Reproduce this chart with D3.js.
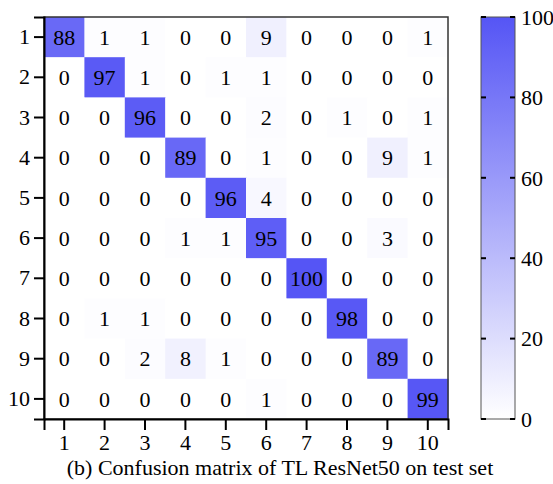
<!DOCTYPE html>
<html>
<head>
<meta charset="utf-8">
<script src="https://cdn.jsdelivr.net/npm/d3@7"></script>
<style>
  body { margin: 0; background: #fff; }
  svg text { font-family: "Liberation Serif", "Times New Roman", Tinos, "DejaVu Serif", serif; fill: #000; }
</style>
</head>
<body>
<svg id="chart" width="553" height="484"></svg>
<script>
'use strict';
// class labels (true = rows, predicted = columns)
let classes = ["1", "2", "3", "4", "5", "6", "7", "8", "9", "10"];

// confusion matrix rows
let row1  = [88, 1, 1, 0, 0, 9, 0, 0, 0, 1];
let row2  = [0, 97, 1, 0, 1, 1, 0, 0, 0, 0];
let row3  = [0, 0, 96, 0, 0, 2, 0, 1, 0, 1];
let row4  = [0, 0, 0, 89, 0, 1, 0, 0, 9, 1];
let row5  = [0, 0, 0, 0, 96, 4, 0, 0, 0, 0];
let row6  = [0, 0, 0, 1, 1, 95, 0, 0, 3, 0];
let row7  = [0, 0, 0, 0, 0, 0, 100, 0, 0, 0];
let row8  = [0, 1, 1, 0, 0, 0, 0, 98, 0, 0];
let row9  = [0, 0, 2, 8, 1, 0, 0, 0, 89, 0];
let row10 = [0, 0, 0, 0, 0, 1, 0, 0, 0, 99];
let matrix = [row1, row2, row3, row4, row5, row6, row7, row8, row9, row10];

let colorTicks = [0, 20, 40, 60, 80, 100];
let title = "(b) Confusion matrix of TL ResNet50 on test set";

let svg = d3.select("#chart"),
    m = {left: 44, top: 17, right: 448, bottom: 419};

let x = d3.scaleBand().domain(classes).range([m.left, m.right]);
let y = d3.scaleBand().domain(classes).range([m.top, m.bottom]);
let color = d3.scaleLinear().domain([0, 100]).range(["#ffffff", "#5555f5"]);

let cells = [];
matrix.forEach((row, i) => row.forEach((v, j) => {
    cells.push({r: classes[i], c: classes[j], v: v});
}));

let g = svg.append("g");
g.selectAll("rect")
    .data(cells)
    .enter().append("rect")
    .attr("x", d => x(d.c))
    .attr("y", d => y(d.r))
    .attr("width", x.bandwidth() + 0.5)
    .attr("height", y.bandwidth() + 0.5)
    .attr("fill", d => color(d.v));

g.selectAll("text.val")
    .data(cells)
    .enter().append("text")
    .attr("class", "val")
    .attr("x", d => x(d.c) + x.bandwidth() / 2)
    .attr("y", d => y(d.r) + y.bandwidth() / 2)
    .attr("dy", "0.35em")
    .attr("text-anchor", "middle")
    .attr("font-size", 22)
    .text(d => d.v);

// frame (top/right thin)
svg.append("rect")
    .attr("x", m.left).attr("y", m.top)
    .attr("width", m.right - m.left).attr("height", m.bottom - m.top)
    .attr("fill", "none").attr("stroke", "#333").attr("stroke-width", 1.5);

let axL = svg.append("g")
    .attr("transform", "translate(" + m.left + ",0)")
    .call(d3.axisLeft(y).tickSize(10).tickPadding(4));
let axB = svg.append("g")
    .attr("transform", "translate(0," + m.bottom + ")")
    .call(d3.axisBottom(x).tickSize(11).tickPadding(4));
[axL, axB].forEach(a => {
    a.attr("font-family", null).attr("font-size", null);
    a.select(".domain").attr("stroke", "#000").attr("stroke-width", 2);
    a.selectAll(".tick line").attr("stroke", "#000").attr("stroke-width", 2);
    a.selectAll(".tick text").attr("font-size", 22).attr("fill", "#000");
});

// colour bar
let cb = {x0: 481, x1: 515};
let cy = d3.scaleLinear().domain([0, 100]).range([m.bottom, m.top]);
let defs = svg.append("defs");
let grad = defs.append("linearGradient")
    .attr("id", "cbar").attr("x1", 0).attr("y1", 1).attr("x2", 0).attr("y2", 0);
grad.selectAll("stop")
    .data(colorTicks)
    .enter().append("stop")
    .attr("offset", d => d / 100)
    .attr("stop-color", d => color(d));
svg.append("rect")
    .attr("x", cb.x0).attr("y", cy(100))
    .attr("width", cb.x1 - cb.x0).attr("height", cy(0) - cy(100))
    .attr("fill", "url(#cbar)")
    .attr("stroke", "#555").attr("stroke-width", 1);

let tg = svg.append("g").selectAll("g")
    .data(colorTicks)
    .enter().append("g");
tg.append("line")
    .attr("x1", cb.x0).attr("x2", cb.x0 + 5)
    .attr("y1", d => cy(d)).attr("y2", d => cy(d))
    .attr("stroke", "#000").attr("stroke-width", 2);
tg.append("line")
    .attr("x1", cb.x1 - 5).attr("x2", cb.x1)
    .attr("y1", d => cy(d)).attr("y2", d => cy(d))
    .attr("stroke", "#000").attr("stroke-width", 2);
tg.append("text")
    .attr("x", cb.x1 + 6)
    .attr("y", d => cy(d))
    .attr("dy", "0.35em")
    .attr("font-size", 22)
    .text(d => d);

svg.append("text")
    .attr("x", 280)
    .attr("y", 475)
    .attr("text-anchor", "middle")
    .attr("font-size", 22)
    .text(title);
</script>
</body>
</html>
